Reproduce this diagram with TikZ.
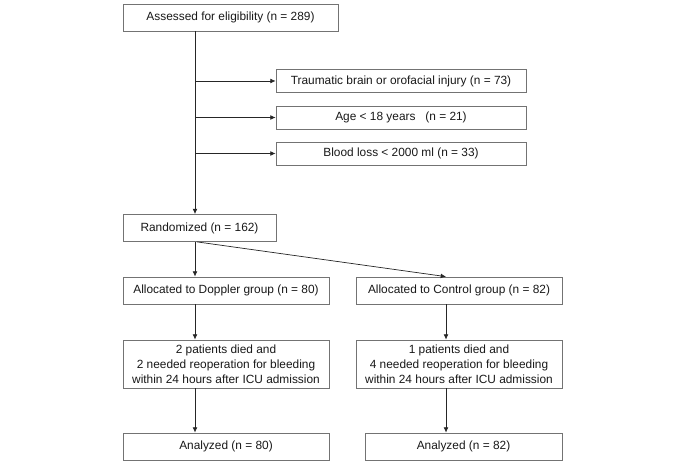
\documentclass[tikz,border=0pt]{standalone}
\usepackage{fontspec}
\setmainfont{Liberation Sans}
\usepackage{tikz}
\usetikzlibrary{arrows.meta}

\tikzset{
  flowbox/.style={draw=black!55,line width=0.6pt,fill=white,align=center,inner sep=0pt,
    font=\fontsize{10.1}{12.6}\selectfont,text=black!90},
  flowarr/.style={draw=black!85,line width=0.6pt,-{Latex[length=4.5pt,width=4pt]}}
}

\begin{document}
\begin{tikzpicture}[x=0.85pt,y=-0.85pt]
\useasboundingbox (0,0) rectangle (685,466);
\node[flowbox,minimum width=215*0.85pt,minimum height=27*0.85pt] (assessed) at (230.5,17.5) {Assessed for eligibility (n = 289)};
\node[flowbox,minimum width=250*0.85pt,minimum height=23*0.85pt] (injury) at (401,81) {Traumatic brain or orofacial injury (n = 73)};
\node[flowbox,minimum width=250*0.85pt,minimum height=23*0.85pt] (age) at (401,117.5) {Age < 18 years\ \ \ (n = 21)};
\node[flowbox,minimum width=250*0.85pt,minimum height=23*0.85pt] (bloodloss) at (401,153.5) {Blood loss < 2000 ml (n = 33)};
\node[flowbox,minimum width=153*0.85pt,minimum height=27*0.85pt] (randomized) at (199.5,228) {Randomized (n = 162)};
\node[flowbox,minimum width=206*0.85pt,minimum height=27*0.85pt] (doppler) at (226,290.5) {Allocated to Doppler group (n = 80)};
\node[flowbox,minimum width=206*0.85pt,minimum height=27*0.85pt] (control) at (459,290.5) {Allocated to Control group (n = 82)};
\node[flowbox,minimum width=206*0.85pt,minimum height=48*0.85pt] (dieddop) at (226,364) {2 patients died and\\2 needed reoperation for bleeding\\within 24 hours after ICU admission};
\node[flowbox,minimum width=206*0.85pt,minimum height=48*0.85pt] (diedctl) at (459,364) {1 patients died and\\4 needed reoperation for bleeding\\within 24 hours after ICU admission};
\node[flowbox,minimum width=206*0.85pt,minimum height=27*0.85pt] (anadop) at (226,446.5) {Analyzed (n = 80)};
\node[flowbox,minimum width=197*0.85pt,minimum height=27*0.85pt] (anactl) at (463.5,446.5) {Analyzed (n = 82)};
\coordinate (trunk) at (195,0);
\coordinate (ctltrunk) at (446,0);
\draw[flowarr] (assessed.south -| trunk) -- (randomized.north -| trunk);
\draw[flowarr] (injury.west -| trunk) -- (injury.west);
\draw[flowarr] (age.west -| trunk) -- (age.west);
\draw[flowarr] (bloodloss.west -| trunk) -- (bloodloss.west);
\draw[flowarr] (randomized.south -| trunk) -- (doppler.north -| trunk);
\draw[flowarr] ([xshift=1.5pt]randomized.south -| trunk) -- (control.north -| ctltrunk);
\draw[flowarr] (doppler.south -| trunk) -- (dieddop.north -| trunk);
\draw[flowarr] (dieddop.south -| trunk) -- (anadop.north -| trunk);
\draw[flowarr] (control.south -| ctltrunk) -- (diedctl.north -| ctltrunk);
\draw[flowarr] (diedctl.south -| ctltrunk) -- (anactl.north -| ctltrunk);
\end{tikzpicture}
\end{document}
